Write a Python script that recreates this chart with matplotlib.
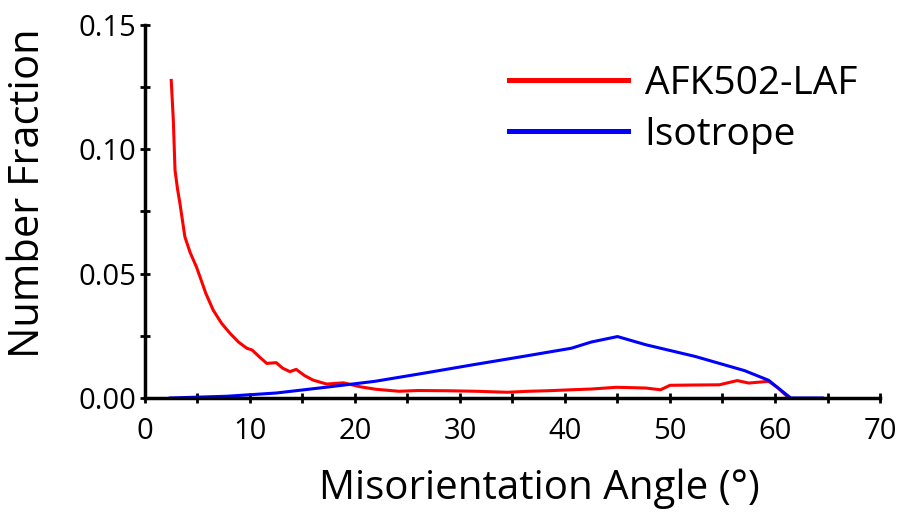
import matplotlib
matplotlib.use("Agg")
import matplotlib.pyplot as plt
from matplotlib.ticker import MultipleLocator

plt.rcParams['font.family'] = ['Open Sans', 'DejaVu Sans']

laf_x = [2.5, 2.7, 2.86, 3.1, 3.33, 3.8, 4.3, 4.9, 5.24, 5.8, 6.5, 7.3, 8.1, 8.9, 9.7, 10.2,
         10.9, 11.6, 12.5, 13.1, 13.8, 14.4, 15.2, 16.0, 17.3, 18.9, 20.5, 22.0, 24.2, 26.0,
         28.9, 31.5, 34.5, 36.5, 38.3, 40.6, 42.5, 44.9, 47.7, 49.1, 50.0, 52.0, 54.7, 56.4,
         57.5, 59.4, 60.3, 61.3]
laf_y = [0.1277, 0.1116, 0.0916, 0.0840, 0.0782, 0.0648, 0.0585, 0.0527, 0.0487, 0.0420,
         0.0353, 0.0300, 0.0260, 0.0225, 0.0200, 0.0193, 0.0165, 0.0139, 0.0142, 0.0120,
         0.0106, 0.0115, 0.0090, 0.0072, 0.0056, 0.0061, 0.0045, 0.0035, 0.0027, 0.0030,
         0.0029, 0.0027, 0.0023, 0.0027, 0.0029, 0.0033, 0.0036, 0.0043, 0.0040, 0.0033,
         0.0051, 0.0052, 0.0053, 0.0070, 0.0060, 0.0067, 0.0040, 0.0]

iso_x = [2.4, 7.8, 12.5, 17.2, 21.9, 26.6, 31.3, 36.0, 40.6, 42.5, 45.0, 47.7, 52.4, 57.1,
         59.4, 60.3, 61.5, 64.5]
iso_y = [0.0, 0.0007, 0.0020, 0.0043, 0.0067, 0.0100, 0.0134, 0.0167, 0.0200, 0.0225, 0.0247,
         0.0214, 0.0167, 0.0110, 0.0071, 0.0040, 0.0, 0.0]

labels = ["AFK502-LAF", "Isotrope"]

fig = plt.figure(figsize=(9.09, 5.12), dpi=100)
ax = fig.add_axes([0.1595, 0.2227, 0.8086, 0.7285])
ax.plot(laf_x, laf_y, color='#ff0000', lw=2.2, label=labels[0])
ax.plot(iso_x, iso_y, color='#0000ff', lw=2.2, label=labels[1])

ax.set_xlim(0, 70)
ax.set_ylim(0, 0.15)
ax.xaxis.set_major_locator(MultipleLocator(10))
ax.xaxis.set_minor_locator(MultipleLocator(5))
ax.yaxis.set_major_locator(MultipleLocator(0.05))
ax.yaxis.set_minor_locator(MultipleLocator(0.025))
ax.yaxis.set_major_formatter(plt.FuncFormatter(lambda v, p: f"{v:.2f}"))
for s in ['top', 'right']:
    ax.spines[s].set_visible(False)
for s in ['left', 'bottom']:
    ax.spines[s].set_linewidth(2.5)
ax.tick_params(which='both', direction='inout', length=7, width=2, labelsize=21)
ax.tick_params(axis='x', pad=10)
ax.tick_params(axis='y', pad=3)

ax.set_xlabel("Misorientation Angle (°)", fontsize=29)
ax.xaxis.label.set_va('baseline')
ax.xaxis.set_label_coords(0.537, -0.272)
ax.set_ylabel("Number Fraction", fontsize=30)
ax.yaxis.label.set_va('center')
ax.yaxis.set_label_coords(-0.159, 0.55)

leg = ax.legend(loc='upper right', bbox_to_anchor=(0.99, 0.935), frameon=False, fontsize=28,
                handlelength=3.06, labelspacing=0.33, handletextpad=0.42, borderaxespad=0)
for h in leg.get_lines():
    h.set_linewidth(3.6)

fig.savefig("out.png", dpi=100)
